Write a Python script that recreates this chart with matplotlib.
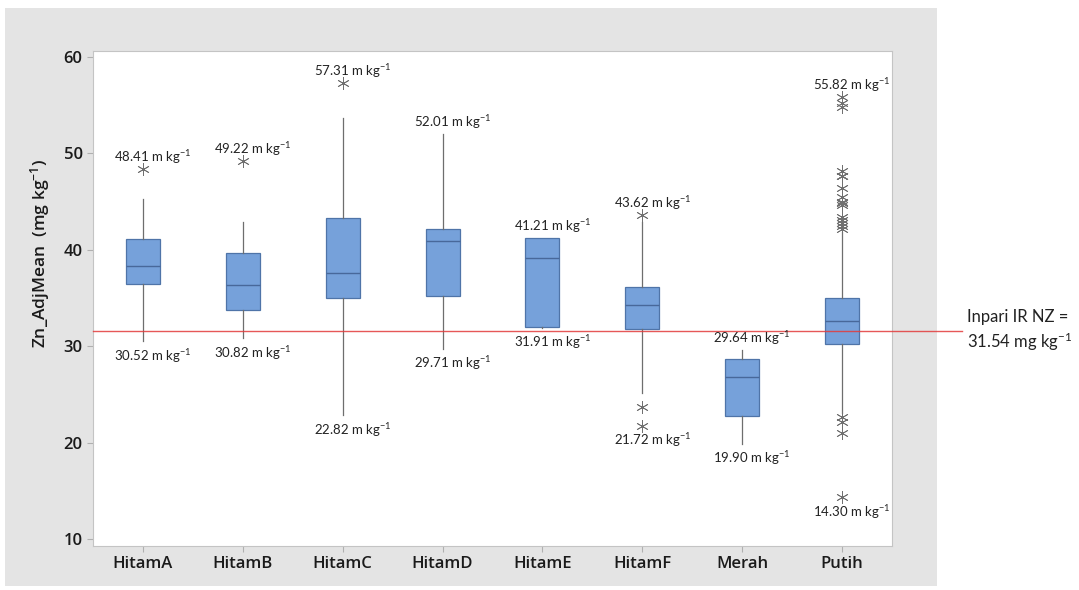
import matplotlib
matplotlib.use("Agg")
import matplotlib.pyplot as plt
from matplotlib.patches import Rectangle

plt.rcParams['mathtext.fontset'] = 'custom'
plt.rcParams['mathtext.rm'] = 'Lato'
plt.rcParams['mathtext.default'] = 'regular'

# Box statistics
categories = ['HitamA', 'HitamB', 'HitamC', 'HitamD', 'HitamE', 'HitamF', 'Merah', 'Putih']
q1 = [36.45, 33.8, 35.0, 35.2, 32.0, 31.8, 22.8, 30.2]
median = [38.35, 36.35, 37.6, 40.9, 39.15, 34.3, 26.8, 32.65]
q3 = [41.1, 39.7, 43.3, 42.15, 41.21, 36.1, 28.67, 35.0]
whis_lo = [30.52, 30.82, 22.82, 29.71, 31.91, 25.1, 19.90, 23.1]
whis_hi = [45.3, 42.9, 53.7, 52.01, 41.21, 42.9, 29.64, 41.8]
outliers = [
    [48.41],
    [49.22],
    [57.31],
    [],
    [],
    [43.62, 23.7, 21.72],
    [],
    [55.82, 55.2, 54.8, 48.2, 47.6, 47.6, 47.6, 46.4, 45.5, 45.0, 44.8, 44.6,
     43.4, 43.1, 42.8, 42.5, 42.2, 22.65, 22.1, 21.0, 14.30],
]
top_labels = ['48.41', '49.22', '57.31', '52.01', '41.21', '43.62', '29.64', '55.82']
bottom_labels = ['30.52', '30.82', '22.82', '29.71', '31.91', '21.72', '19.90', '14.30']
ref_value = 31.54
yticks = [10, 20, 30, 40, 50, 60]

fig = plt.figure(figsize=(10.79, 5.90), dpi=100)
fig.patches.append(Rectangle((0.0046, 0.0068), 0.8638, 0.9796, transform=fig.transFigure,
                             facecolor='#e4e4e4', edgecolor='none', zorder=-10))
ax = fig.add_axes([0.0862, 0.0746, 0.7405, 0.839])
ax.set_facecolor('white')

stats = []
for i in range(len(categories)):
    stats.append(dict(q1=q1[i], med=median[i], q3=q3[i], whislo=whis_lo[i],
                      whishi=whis_hi[i], fliers=outliers[i], label=categories[i]))

pos = list(range(1, len(categories) + 1))
ax.bxp(stats, positions=pos, widths=0.34, patch_artist=True, showcaps=False,
       boxprops=dict(facecolor='#76a1da', edgecolor='#4f74a8', linewidth=0.9),
       medianprops=dict(color='#48689a', linewidth=1.0),
       whiskerprops=dict(color='#6e6e6e', linewidth=0.9),
       flierprops=dict(marker=(6, 2, 0), markersize=9, markeredgecolor='#707070',
                       markerfacecolor='none', markeredgewidth=0.6, linestyle='none'))

# reference line, running past the plot area to the label
ax.axhline(ref_value, xmin=0, xmax=1.088, color='#e23b3b', linewidth=1.0,
           clip_on=False, zorder=3, alpha=0.85)
ax.text(1.094, ref_value, 'Inpari IR NZ =\n31.54 mg kg$^{-1}$', transform=ax.get_yaxis_transform(),
        ha='left', va='center', fontsize=12, family='Lato', color='#222222', linespacing=1.3)

for i, p in enumerate(pos):
    ax.annotate(top_labels[i] + ' m kg$^{-1}$', (p + 0.1, float(top_labels[i])),
                xytext=(0, 2), textcoords='offset points', ha='center', va='bottom',
                fontsize=9.5, family='Lato', color='#222222')
    ax.annotate(bottom_labels[i] + ' m kg$^{-1}$', (p + 0.1, float(bottom_labels[i])),
                xytext=(0, -4), textcoords='offset points', ha='center', va='top',
                fontsize=9.5, family='Lato', color='#222222')

ax.set_xlim(0.5, 8.5)
ax.set_ylim(9.27, 60.62)
ax.set_yticks(yticks)
ax.set_xticks(pos)
ax.set_xticklabels(categories)
ax.tick_params(axis='both', colors='#b0b0b0', length=4, width=0.8, labelcolor='#1a1a1a',
               labelsize=12)
for lab in ax.get_xticklabels() + ax.get_yticklabels():
    lab.set_family('Open Sans')
    lab.set_fontweight('semibold')
for s in ax.spines.values():
    s.set_color('#c4c4c4')
    s.set_linewidth(0.8)

ax.set_ylabel('Zn_AdjMean  (mg kg$^{-1}$)', fontsize=12.5, family='Open Sans',
              fontweight='semibold', color='#1a1a1a')
ax.yaxis.set_label_coords(-0.051, 0.59)

fig.savefig('out.png', dpi=100, facecolor='white')
